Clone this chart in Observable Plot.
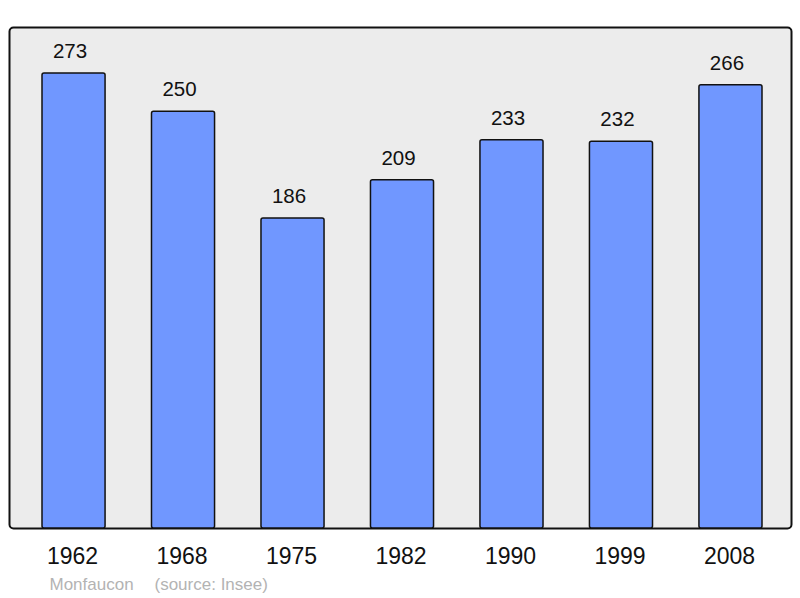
<!DOCTYPE html>
<html><head><meta charset="utf-8">
<script src="https://cdn.jsdelivr.net/npm/d3@7"></script>
<script src="https://cdn.jsdelivr.net/npm/@observablehq/plot@0.6"></script>
<style>body{margin:0;background:#fff;font-family:"Liberation Sans",Arial,sans-serif}</style>
</head><body><div id="chart"></div>
<script>
const years = ["1962","1968","1975","1982","1990","1999","2008"];
const population = [273,250,186,209,233,232,266];
const commune = "Monfaucon";
const source = "(source: Insee)";
const data = years.map((y,i)=>({year:y, pop:population[i]}));

const chart = Plot.plot({
  width: 800, height: 598,
  marginLeft: 42, marginRight: 38, marginTop: 28, marginBottom: 70,
  style: {fontFamily: "Liberation Sans, Arial, sans-serif", background: "white"},
  x: {domain: years, paddingInner: 0.424, paddingOuter: 0, round: false, label: null},
  y: {domain: [0, 300], axis: null},
  marks: [
    Plot.frame({fill: "#ececec", stroke: "#111", strokeWidth: 2, rx: 4, insetLeft: -33, insetRight: -29, insetTop: -1}),
    Plot.barY(data, {x: "year", y: "pop", fill: "#7097ff", stroke: "#111", strokeWidth: 1.5, rx: 2}),
    Plot.text(data, {x: "year", y: "pop", text: d => String(d.pop), dy: -22, dx: -4, fontSize: 20.5, fill: "#111"}),
    Plot.axisX({tickSize: 0, tickPadding: 19, dx: -1.5, fontSize: 23, fill: "#111"}),
    Plot.text([commune], {frameAnchor: "bottom-left", dx: 7, dy: 61, fontSize: 17, fill: "#b3b3b3", textAnchor: "start"}),
    Plot.text([source], {frameAnchor: "bottom-left", dx: 112, dy: 61, fontSize: 17, fill: "#b3b3b3", textAnchor: "start"})
  ]
});
document.getElementById("chart").append(chart);
</script></body></html>
